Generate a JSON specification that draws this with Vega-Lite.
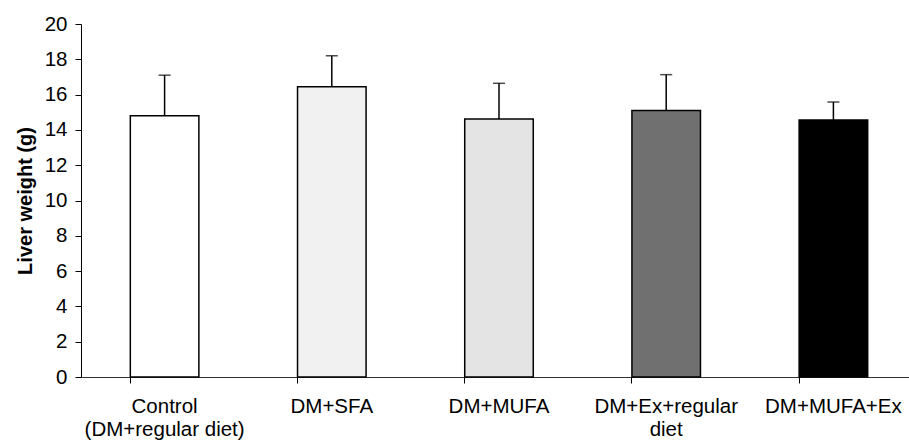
{
  "$schema": "https://vega.github.io/schema/vega-lite/v6.json",
  "autosize": "none",
  "width": 828,
  "height": 353,
  "padding": {"left": 81, "top": 24, "right": 0, "bottom": 71},
  "background": "white",
  "config": {
    "view": {"stroke": null},
    "font": "Liberation Sans",
    "axisY": {"labelOverlap": false, "tickCount": 11}
  },
  "data": {
    "values": [
      {"group": "Control (DM+regular diet)", "mean": 14.8, "upper": 17.1},
      {"group": "DM+SFA", "mean": 16.45, "upper": 18.2},
      {"group": "DM+MUFA", "mean": 14.62, "upper": 16.64},
      {"group": "DM+Ex+regular diet", "mean": 15.1, "upper": 17.13},
      {"group": "DM+MUFA+Ex", "mean": 14.56, "upper": 15.58}
    ]
  },
  "encoding": {
    "x": {
      "field": "group",
      "type": "nominal",
      "sort": null,
      "scale": {"range": [0, 836], "paddingInner": 0.59, "paddingOuter": 0.295},
      "axis": {
        "title": null,
        "labelAngle": 0,
        "bandPosition": 0,
        "labelExpr": "datum.value == 'Control (DM+regular diet)' ? ['Control', '(DM+regular diet)'] : datum.value == 'DM+Ex+regular diet' ? ['DM+Ex+regular', 'diet'] : datum.value",
        "labelFontSize": 20.5,
        "labelColor": "black",
        "labelLineHeight": 23,
        "labelPadding": 13,
        "labelBaseline": "top",
        "labelOverlap": false,
        "tickSize": 6,
        "tickColor": "black",
        "domainColor": "#333333",
        "domainWidth": 1,
        "grid": false
      }
    },
    "y": {
      "field": "mean",
      "type": "quantitative",
      "scale": {"domain": [0, 20], "nice": false},
      "axis": {
        "title": "Liver weight (g)",
        "titleFontSize": 20,
        "titleFontWeight": "bold",
        "titleColor": "black",
        "titlePadding": 9,
        "values": [0, 2, 4, 6, 8, 10, 12, 14, 16, 18, 20],
        "labelOverlap": false,
        "labelFontSize": 20.5,
        "labelColor": "black",
        "labelPadding": 8,
        "tickSize": 6,
        "tickColor": "black",
        "domainColor": "black",
        "grid": false
      }
    }
  },
  "layer": [
    {
      "mark": {"type": "bar", "stroke": "black", "strokeWidth": 1.5},
      "encoding": {
        "fill": {
          "field": "group",
          "type": "nominal",
          "sort": null,
          "scale": {"range": ["#ffffff", "#f1f1f1", "#e4e4e4", "#707070", "#000000"]},
          "legend": null
        }
      }
    },
    {
      "mark": {"type": "rule", "color": "black", "strokeWidth": 1.5},
      "encoding": {
        "y2": {"field": "upper"}
      }
    },
    {
      "mark": {"type": "tick", "color": "black", "thickness": 1.5, "size": 12},
      "encoding": {
        "y": {
          "field": "upper",
          "type": "quantitative",
          "scale": {"domain": [0, 20], "nice": false},
          "axis": {
            "title": "Liver weight (g)",
            "titleFontSize": 20,
            "titleFontWeight": "bold",
            "titleColor": "black",
            "titlePadding": 9,
            "values": [0, 2, 4, 6, 8, 10, 12, 14, 16, 18, 20],
            "labelOverlap": false,
            "labelFontSize": 20.5,
            "labelColor": "black",
            "labelPadding": 8,
            "tickSize": 6,
            "tickColor": "black",
            "domainColor": "black",
            "grid": false
          }
        }
      }
    }
  ]
}
